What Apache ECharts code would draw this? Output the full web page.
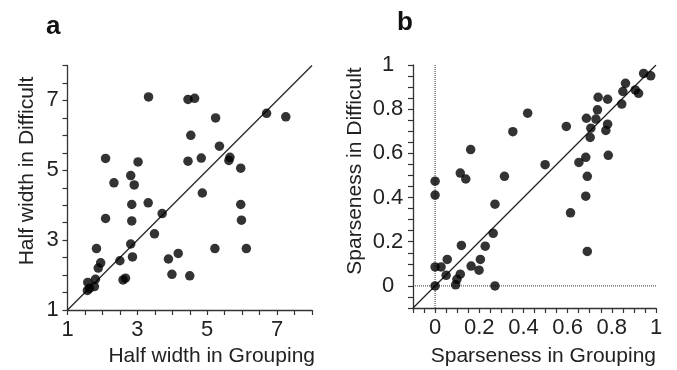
<!DOCTYPE html>
<html>
<head>
<meta charset="utf-8">
<script src="https://cdn.jsdelivr.net/npm/echarts@6/dist/echarts.min.js"></script>
<style>
html,body{margin:0;padding:0;background:#fff;}
#chart{width:677px;height:370px;}
</style>
</head>
<body>
<div id="chart"></div>
<script>
// Panel a: Half width
const aX = [3.32,4.45,4.64,6.70,7.25,5.24,4.53,5.35,5.65,5.62,4.83,4.45,5.96,2.09,3.02,2.33,2.81,2.91,4.86,2.84,3.31,5.96,2.09,3.71,2.84,5.98,3.49,2.81,1.83,5.22,6.12,2.86,4.17,3.89,2.50,1.95,1.88,3.99,4.50,2.66,2.59,1.80,1.58,1.77,1.63,1.57];
const aY = [7.10,7.03,7.06,6.63,6.53,6.50,6.00,5.69,5.37,5.28,5.35,5.26,5.06,5.34,5.24,4.64,4.85,4.58,4.35,4.02,4.07,4.02,3.62,3.76,3.55,3.57,3.18,2.89,2.76,2.76,2.76,2.52,2.62,2.46,2.41,2.35,2.20,2.02,1.98,1.91,1.86,1.88,1.79,1.67,1.62,1.56];
// Panel b: Sparseness
const bX = [0.944,0.976,0.862,0.850,0.906,0.921,0.845,0.781,0.738,0.735,0.728,0.685,0.705,0.702,0.781,0.773,0.784,0.594,0.419,0.352,0.498,0.651,0.682,0.689,0.682,0.613,0.689,0.161,0.114,0.139,0.0,0.0,0.314,0.271,0.263,0.227,0.119,0.205,0.199,0.163,0.055,0.0,0.027,0.050,0.114,0.099,0.093,0.0,0.271];
const bY = [0.962,0.951,0.917,0.880,0.887,0.872,0.823,0.845,0.854,0.797,0.755,0.759,0.714,0.672,0.732,0.704,0.591,0.722,0.782,0.698,0.549,0.559,0.582,0.496,0.406,0.331,0.156,0.617,0.511,0.484,0.474,0.411,0.496,0.370,0.238,0.180,0.183,0.120,0.071,0.090,0.120,0.086,0.086,0.048,0.053,0.030,0.005,0.0,0.0];

const aTickLabels = [1,3,5,7];
const bTickLabels = [0,0.2,0.4,0.6,0.8,1];
const aRange = [1,8];
const bRange = [-0.1,1];
const aIdentity = [[1,1],[8,8]];
const bIdentity = [[-0.1,-0.1],[1,1]];
const bZeroV = [[0,-0.1],[0,1]];
const bZeroH = [[-0.1,0],[1,0]];

const FONT = '"Liberation Sans", Arial, sans-serif';
const near = (v, t) => Math.abs(v - t) < 1e-6;
function fmtA(v){ return aTickLabels.some(t => near(v,t)) ? String(Math.round(v)) : ''; }
function fmtB(v){
  const t = bTickLabels.find(t => near(v,t));
  if (t === undefined) return '';
  return (t === 0 || t === 1) ? String(t) : t.toFixed(1);
}
function mkAxis(gridIndex, range, interval, fmt, margin, isY){
  const label = {formatter:fmt, margin:margin, color:'#222', fontSize:22, fontFamily:FONT,
                 showMinLabel:true, showMaxLabel:true, hideOverlap:false};
  if (isY){ label.align = 'center'; label.verticalAlign = 'middle'; }
  return {
    gridIndex, type:'value', min:range[0], max:range[1], interval,
    axisLine:{show:true, onZero:false, lineStyle:{color:'#333', width:1.3}},
    axisTick:{show:true, inside:false, length:5, lineStyle:{color:'#333', width:1.2}},
    minorTick:{show:false},
    splitLine:{show:false},
    axisLabel:label
  };
}

const zip = (xs, ys) => xs.map((x,i) => [x, ys[i]]);
const dot = {color:'#000'};

const option = {
  animation:false,
  backgroundColor:'#fff',
  grid:[
    {left:67.5, right:365, top:65.5, bottom:60},
    {left:413, right:21, top:65, bottom:62}
  ],
  xAxis:[
    mkAxis(0, aRange, 0.5, fmtA, 9, false),
    mkAxis(1, bRange, 0.05, fmtB, 9, false)
  ],
  yAxis:[
    mkAxis(0, aRange, 0.5, fmtA, 15, true),
    mkAxis(1, bRange, 0.05, fmtB, 25, true)
  ],
  series:[
    {type:'line', xAxisIndex:0, yAxisIndex:0, data:aIdentity, symbol:'none', lineStyle:{color:'#222', width:1.2}, z:1},
    {type:'scatter', xAxisIndex:0, yAxisIndex:0, data:zip(aX,aY), symbolSize:9.5, itemStyle:dot, z:3},
    {type:'line', xAxisIndex:1, yAxisIndex:1, data:bZeroV, symbol:'none', lineStyle:{color:'#333', width:1, type:'dotted'}, z:1},
    {type:'line', xAxisIndex:1, yAxisIndex:1, data:bZeroH, symbol:'none', lineStyle:{color:'#333', width:1, type:'dotted'}, z:1},
    {type:'line', xAxisIndex:1, yAxisIndex:1, data:bIdentity, symbol:'none', lineStyle:{color:'#222', width:1.2}, z:1},
    {type:'scatter', xAxisIndex:1, yAxisIndex:1, data:zip(bX,bY), symbolSize:9.5, itemStyle:dot, z:3}
  ],
  graphic:[
    {type:'text', x:46, y:14, style:{text:'a', font:'bold 26px ' + FONT, fill:'#111'}},
    {type:'text', x:397, y:10, style:{text:'b', font:'bold 26px ' + FONT, fill:'#111'}},
    {type:'text', x:315, y:356, style:{text:'Half width in Grouping', font:'21px ' + FONT, fill:'#222', align:'right', verticalAlign:'middle'}},
    {type:'text', x:656, y:356, style:{text:'Sparseness in Grouping', font:'21px ' + FONT, fill:'#222', align:'right', verticalAlign:'middle'}},
    {type:'text', x:27, y:171, rotation:Math.PI/2, style:{text:'Half width in Difficult', font:'21px ' + FONT, fill:'#222', align:'center', verticalAlign:'middle'}},
    {type:'text', x:355, y:171, rotation:Math.PI/2, style:{text:'Sparseness in Difficult', font:'21px ' + FONT, fill:'#222', align:'center', verticalAlign:'middle'}}
  ]
};
const chart = echarts.init(document.getElementById('chart'), null, {renderer:'canvas'});
chart.setOption(option);
</script>
</body>
</html>
